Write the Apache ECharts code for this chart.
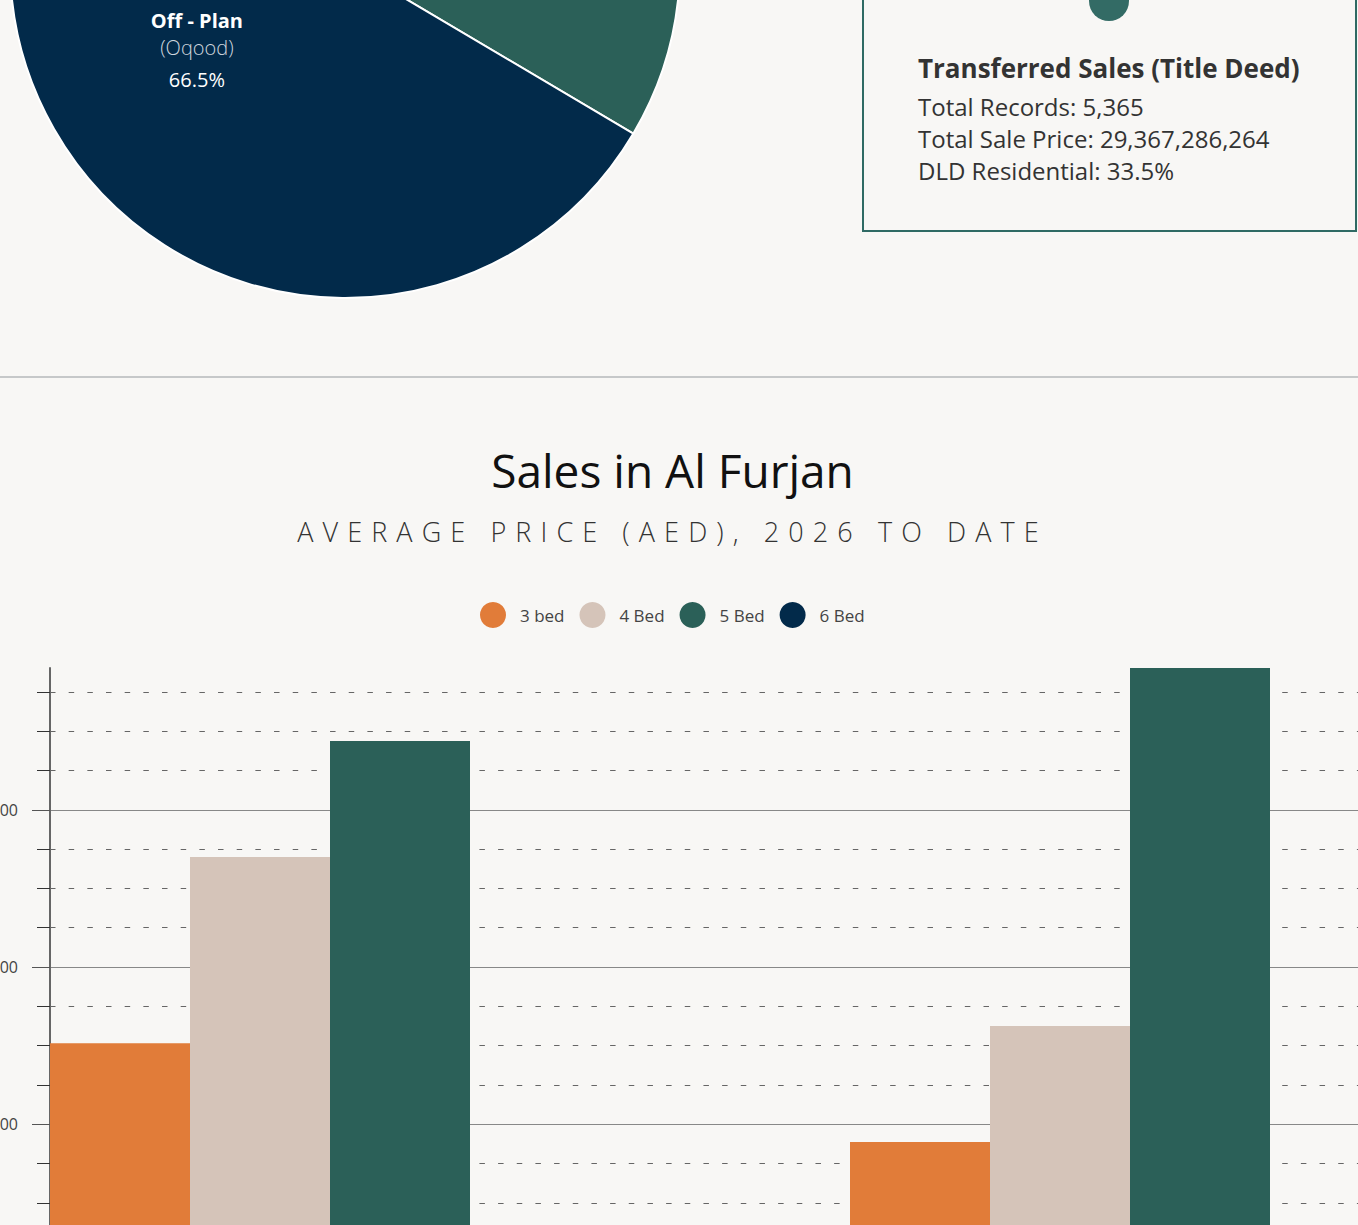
<!DOCTYPE html>
<html>
<head>
<meta charset="utf-8">
<script src="https://cdn.jsdelivr.net/npm/echarts@6/dist/echarts.min.js"></script>
<style>
  html, body { margin:0; padding:0; background:#f8f7f5; }
  body { width:1358px; height:1225px; position:relative; overflow:hidden; font-family: "Open Sans", "Noto Sans", sans-serif; }
  #chart { position:absolute; left:0; top:0; width:1358px; height:1225px; }
  .card { position:absolute; left:862px; top:-120px; width:495px; height:352px; box-sizing:border-box; border:2px solid #2f6a64; }
  .dot { position:absolute; left:1089px; top:-19px; width:40px; height:40px; border-radius:50%; background:#336b65; }
  .card-t { position:absolute; left:918px; color:#333; white-space:nowrap; line-height:1; }
  .divider { position:absolute; left:0; top:376px; width:1358px; height:2px; background:#c6c8c9; }
  .title { position:absolute; left:0; width:1345px; text-align:center; top:447px; font-size:46px; line-height:1; color:#111; white-space:nowrap; }
  .subtitle { position:absolute; left:0; width:1345px; text-align:center; top:518px; font-size:27px; line-height:1; font-weight:300; color:#333; letter-spacing:9.1px; white-space:nowrap; }
</style>
</head>
<body>
<div id="chart"></div>
<div class="card"></div>
<div class="dot"></div>
<div class="card-t" id="cardTitle" style="top:55px;font-size:26px;font-weight:700;"></div>
<div class="card-t" id="cardL1" style="top:95px;font-size:24px;"></div>
<div class="card-t" id="cardL2" style="top:127px;font-size:24px;"></div>
<div class="card-t" id="cardL3" style="top:159px;font-size:24px;"></div>
<div class="divider"></div>
<div class="title" id="title"></div>
<div class="subtitle" id="subtitle"></div>
<script>
// ---- data ----
const pieNames = ['Transferred', 'Off - Plan'];
const pieSubNames = ['(Title Deed)', '(Oqood)'];
const pieShares = [33.5, 66.5];
const pieColors = ['#2b6058', '#022a4a'];

const cardTitle = 'Transferred Sales (Title Deed)';
const cardLines = ['Total Records: 5,365', 'Total Sale Price: 29,367,286,264', 'DLD Residential: 33.5%'];

const chartTitle = 'Sales in Al Furjan';
const chartSubtitle = 'AVERAGE PRICE (AED), 2026 TO DATE';

const categories = ['Ready', 'Off-Plan'];
const bed3 = [3030000, 1775000];
const bed4 = [5400000, 3250000];
const bed5 = [6875000, 7804000];
const bed6 = [null, null];
const seriesNames = ['3 bed', '4 Bed', '5 Bed', '6 Bed'];
const seriesColors = ['#e17c39', '#d5c4b9', '#2b6058', '#022a4a'];
const yTicks = [0, 2000000, 4000000, 6000000];
const yTop = 8000000;
const yInterval = 2000000;

// ---- text ----
document.getElementById('cardTitle').textContent = cardTitle;
document.getElementById('cardL1').textContent = cardLines[0];
document.getElementById('cardL2').textContent = cardLines[1];
document.getElementById('cardL3').textContent = cardLines[2];
document.getElementById('title').textContent = chartTitle;
document.getElementById('subtitle').textContent = chartSubtitle;

// ---- layout ----
const FONT = '"Open Sans", "Noto Sans", sans-serif';
const plotLeft = 50;
const plotBottomY = 1281.4;     // pixel y of value 0
const plotTopY = 652.6;         // pixel y of yTop
const plotRight = 1358 - 1650;  // two 800px bands
const dataMax = Math.max(...bed3, ...bed4, ...bed5);
const axisTopY = plotBottomY - (plotBottomY - plotTopY) * dataMax / yTop;

const fmt = v => Math.round(v).toLocaleString('en-US');

const barSeries = [bed3, bed4, bed5, bed6].map((d, i) => ({
  name: seriesNames[i], type: 'bar', xAxisIndex: 0, yAxisIndex: 0,
  data: d, barWidth: 140, barGap: '0%', barCategoryGap: '0%',
  itemStyle: { color: seriesColors[i] }
}));
barSeries.push({ name: 'spacer', type: 'bar', xAxisIndex: 0, yAxisIndex: 0, data: categories.map(() => null), barWidth: 240, silent: true });

const chart = echarts.init(document.getElementById('chart'), null, { renderer: 'svg' });
chart.setOption({
  backgroundColor: 'transparent',
  animation: false,
  textStyle: { fontFamily: FONT },
  legend: {
    data: seriesNames, left: 480, top: 602, padding: 0, icon: 'circle',
    itemWidth: 26, itemHeight: 26, itemGap: 15,
    textStyle: { fontSize: 17, color: '#444', padding: [0, 0, 0, 9], fontFamily: FONT }
  },
  grid: [
    { left: plotLeft, right: plotRight, top: plotTopY, bottom: 1225 - plotBottomY, outerBoundsMode: 'none', containLabel: false },
    { left: plotLeft, right: plotRight, top: axisTopY, bottom: 1225 - plotBottomY, outerBoundsMode: 'none', containLabel: false }
  ],
  xAxis: [
    { type: 'category', gridIndex: 0, data: categories, axisLine: { lineStyle: { color: '#666' } }, axisTick: { show: false }, axisLabel: { color: '#444', fontSize: 16 } },
    { type: 'category', gridIndex: 1, data: categories, show: false }
  ],
  yAxis: [
    {
      type: 'value', gridIndex: 0, min: 0, max: yTop, interval: yInterval,
      axisLine: { show: false },
      axisTick: { show: true, length: 18, customValues: yTicks, lineStyle: { color: '#555', width: 1 } },
      minorTick: { show: true, splitNumber: 4, length: 13, lineStyle: { color: '#333', width: 1 } },
      axisLabel: { color: '#444', fontSize: 16, margin: 32, customValues: yTicks, formatter: fmt },
      splitLine: { show: true, lineStyle: { color: '#888', width: 1 } },
      minorSplitLine: { show: true, lineStyle: { color: '#666', width: 1, type: [5.5, 13.17] } }
    },
    {
      type: 'value', gridIndex: 1, min: 0, max: dataMax,
      axisLine: { show: true, lineStyle: { color: '#666', width: 2 } },
      axisTick: { show: false }, axisLabel: { show: false }, splitLine: { show: false }
    }
  ],
  series: [
    {
      type: 'pie', center: [345, -37], radius: 335, startAngle: 90, clockwise: true,
      silent: true,
      itemStyle: { borderColor: '#ffffff', borderWidth: 2 },
      label: {
        show: true, position: 'inside', padding: [11, 0, 0, 0],
        formatter: p => '{a|' + pieNames[p.dataIndex] + '}\n{s|' + pieSubNames[p.dataIndex] + '}\n{p|' + p.value.toFixed(1) + '%}',
        rich: {
          a: { color: '#ffffff', fontSize: 20, fontWeight: 'bold', lineHeight: 24, fontFamily: FONT },
          s: { color: '#cfd6de', fontSize: 20, fontWeight: 300, lineHeight: 30, fontFamily: FONT },
          p: { color: '#ffffff', fontSize: 20, lineHeight: 34, fontFamily: FONT }
        }
      },
      labelLine: { show: false },
      data: pieShares.map((v, i) => ({
        name: pieNames[i], value: v, itemStyle: { color: pieColors[i] },
        label: { show: i === 1 }
      }))
    },
    ...barSeries
  ]
});
</script>
</body>
</html>
